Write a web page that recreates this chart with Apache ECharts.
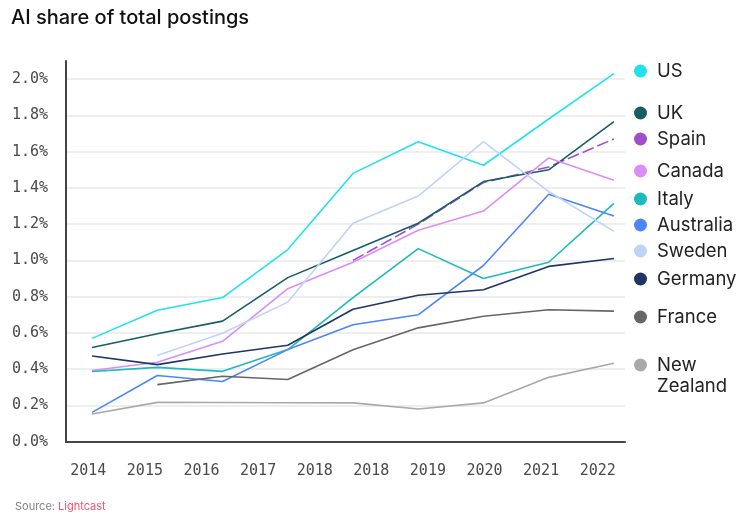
<!DOCTYPE html>
<html>
<head>
<meta charset="utf-8">
<script src="https://cdn.jsdelivr.net/npm/echarts@6/dist/echarts.min.js"></script>
<style>html,body{margin:0;padding:0;background:#fff;}#c{width:750px;height:518px;}</style>
</head>
<body>
<div id="c"></div>
<script>
const years = [2014, 2015, 2016, 2017, 2018, 2019, 2020, 2021, 2022];
const tickLabels = ['2014','2015','2016','2017','2018','2018','2019','2020','2021','2022'];
const us        = [0.57, 0.725, 0.795, 1.06, 1.48, 1.655, 1.525, 1.78, 2.03];
const uk        = [0.52, 0.595, 0.665, 0.905, 1.055, 1.205, 1.435, 1.50, 1.765];
const spain     = [null, null, null, null, 1.0, 1.20, 1.43, 1.515, 1.67];
const canada    = [0.393, 0.438, 0.554, 0.844, 0.99, 1.166, 1.272, 1.565, 1.442];
const italy     = [0.387, 0.41, 0.388, 0.508, 0.795, 1.065, 0.90, 0.99, 1.315];
const australia = [0.162, 0.365, 0.332, 0.508, 0.645, 0.70, 0.972, 1.365, 1.245];
const sweden    = [null, 0.475, 0.598, 0.77, 1.205, 1.355, 1.655, 1.38, 1.16];
const germany   = [0.473, 0.425, 0.484, 0.532, 0.731, 0.808, 0.838, 0.967, 1.011];
const france    = [null, 0.315, 0.361, 0.343, 0.507, 0.628, 0.692, 0.728, 0.72];
const newZealand= [0.153, 0.217, 0.216, 0.215, 0.214, 0.18, 0.214, 0.355, 0.433];

const seriesDefs = [
  {name:'US', data:us, color:'#22e1ef'},
  {name:'Spain', data:spain, color:'#9f4fca', dashed:true},
  {name:'UK', data:uk, color:'#175e63'},
  {name:'Canada', data:canada, color:'#d98ef7'},
  {name:'Italy', data:italy, color:'#1dbabb'},
  {name:'Australia', data:australia, color:'#4d86f7'},
  {name:'Sweden', data:sweden, color:'#bfd3f7'},
  {name:'Germany', data:germany, color:'#1f3566'},
  {name:'France', data:france, color:'#666666'},
  {name:'New Zealand', data:newZealand, color:'#a9a9a9'}
];

const legendPos = [
  ['US', 61], ['UK', 103], ['Spain', 129], ['Canada', 161], ['Italy', 189],
  ['Australia', 215], ['Sweden', 241], ['Germany', 269], ['France', 307]
];

const sansFont = 'Inter';
const monoFont = 'DejaVu Sans Mono';

const legendBase = {
  left: 634, padding: 0, orient: 'vertical',
  itemWidth: 13, itemHeight: 13, selectedMode: false,
  lineStyle: {opacity: 0, width: 0}
};
const legends = legendPos.map(([n, t]) => Object.assign({}, legendBase, {
  data: [{name: n, icon: 'circle'}], icon: 'circle', top: t,
  textStyle: {fontFamily: sansFont, fontSize: 18.5, color: '#222', lineHeight: 20, padding: [0,0,0,5]}
}));
legends.push(Object.assign({}, legendBase, {
  data: [{name: 'New Zealand', icon: 'circle'}], icon: 'circle', top: 333.5,
  formatter: () => ' \nNew\nZealand',
  textStyle: {fontFamily: sansFont, fontSize: 18.5, color: '#222', lineHeight: 21, padding: [0,0,0,5]}
}));

const chart = echarts.init(document.getElementById('c'), null, {renderer: 'canvas'});
chart.setOption({
  backgroundColor: '#fff',
  animation: false,
  title: [
    {text: 'AI share of total postings', left: 6, top: 3,
     textStyle: {fontFamily: sansFont, fontSize: 20, fontWeight: 500, color: '#111'}},
    {text: '{a|Source: }{b|Lightcast}', left: 10, top: 496,
     textStyle: {fontWeight: 'normal', rich: {
       a: {fontFamily: sansFont, fontSize: 11, fontWeight: 'normal', color: '#808080'},
       b: {fontFamily: sansFont, fontSize: 11, fontWeight: 'normal', color: '#f2556f'}}}}
  ],
  legend: legends,
  grid: [
    {left: 66, top: 61, width: 559, height: 380.7},
    {left: 60, top: 61, width: 566, height: 380.7}
  ],
  xAxis: [
    {gridIndex: 0, type: 'value', min: 2013.6, max: 2022.17,
     axisLine: {show: true, onZero: false, lineStyle: {color: '#444', width: 2}},
     axisTick: {show: false}, axisLabel: {show: false}, splitLine: {show: false}},
    {gridIndex: 1, type: 'category', data: tickLabels, boundaryGap: true,
     axisLine: {show: false}, axisTick: {show: false}, splitLine: {show: false},
     axisLabel: {margin: 22, fontFamily: monoFont, fontSize: 15, color: '#4a4a4a'}}
  ],
  yAxis: [
    {gridIndex: 0, type: 'value', min: 0, max: 2.1, interval: 0.2,
     axisLine: {show: true, lineStyle: {color: '#444', width: 2}},
     axisTick: {show: false},
     splitLine: {show: true, showMinLine: false, showMaxLine: false, lineStyle: {color: '#e9e9e9', width: 1.5}},
     axisLabel: {margin: 18, fontFamily: monoFont, fontSize: 15, color: '#4a4a4a',
       formatter: v => v > 2.05 ? '' : v.toFixed(1) + '%'}},
    {gridIndex: 1, type: 'value', min: 0, max: 2.1, show: false}
  ],
  series: seriesDefs.map(s => ({
    name: s.name, type: 'line', xAxisIndex: 0, yAxisIndex: 0,
    data: years.map((y, i) => [y, s.data[i] == null ? '-' : s.data[i]]),
    showSymbol: false, symbol: 'none', connectNulls: false,
    color: s.color,
    lineStyle: {color: s.color, width: 1.6, type: s.dashed ? [12, 4] : 'solid'},
    emphasis: {disabled: true}
  }))
});
</script>
</body>
</html>
